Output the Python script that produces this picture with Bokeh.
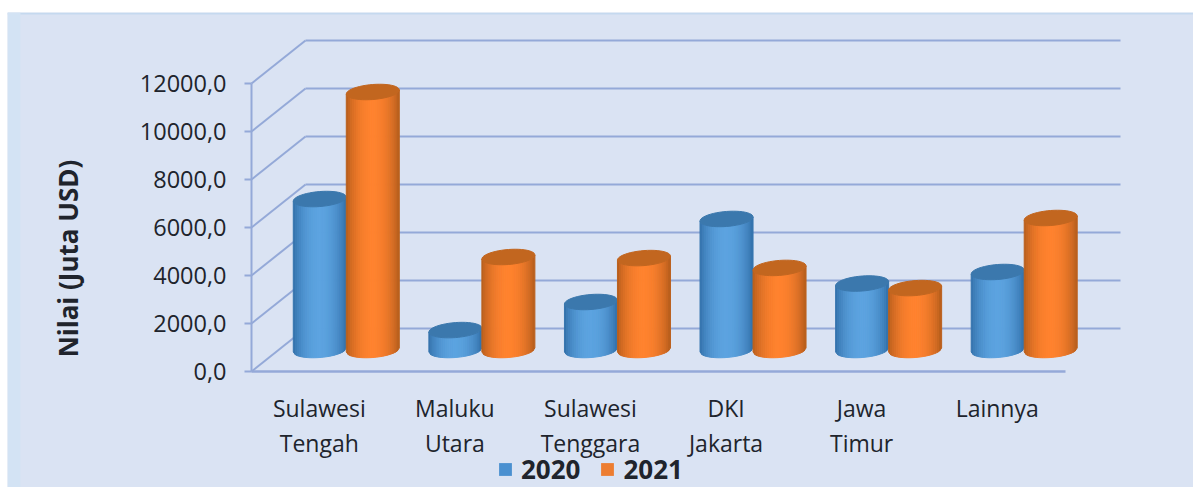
import math
from bokeh.plotting import figure
from bokeh.models import (FixedTicker, Label, Legend, LegendItem,
                          LinearAxis, Range1d, BoxAnnotation)
from bokeh.embed import file_html
from bokeh.resources import INLINE

categories = ["Sulawesi\nTengah", "Maluku\nUtara", "Sulawesi\nTenggara", "DKI\nJakarta", "Jawa\nTimur", "Lainnya"]
series_2020 = [6290, 830, 2000, 5460, 2770, 3250]
series_2021 = [10750, 3875, 3830, 3420, 2580, 5500]
y_ticks = [0, 2000, 4000, 6000, 8000, 10000, 12000]
y_labels = ["0,0", "2000,0", "4000,0", "6000,0", "8000,0", "10000,0", "12000,0"]

PANEL = "#dae3f3"
GRID = "#94a9d8"
TEXT = "#20242c"
FONT = "Open Sans"

W, H = 1193, 487
PANEL_L, PANEL_T = 7, 12      # panel's corner on the page
ORIGIN_X, ORIGIN_Y = 251, 371 # where the value 0 / first category lie
PX_X = 813.5 / 6        # pixels per category
PX_Y = 48 / 2000        # pixels per value unit
DEPTH_X = 54 / PX_X
DEPTH_Y = 43 / PX_Y
R = 26.5 / PX_X
RY = 7.5 / PX_Y
TILT = 2 / PX_Y
WALL_RIGHT = (1120 - ORIGIN_X) / PX_X

p = figure(width=W, height=H, output_backend="svg", toolbar_location=None,
           x_range=Range1d((PANEL_L - ORIGIN_X) / PX_X, (W - ORIGIN_X) / PX_X),
           y_range=Range1d((ORIGIN_Y - H) / PX_Y, (ORIGIN_Y - PANEL_T) / PX_Y),
           x_axis_type=None, y_axis_type=None,
           background_fill_color=PANEL, border_fill_color="white",
           min_border_left=PANEL_L, min_border_top=PANEL_T,
           min_border_right=0, min_border_bottom=0)
p.outline_line_color = None
p.grid.visible = False


def strip(l, r, t, b, color):
    p.add_layout(BoxAnnotation(left=l, right=r, top=t, bottom=b, left_units="canvas", right_units="canvas",
                               top_units="canvas", bottom_units="canvas", fill_color=color, fill_alpha=1,
                               line_color=None, level="underlay"))


# pale border of the panel
strip(PANEL_L, W, PANEL_T, PANEL_T + 2, "#c5d9ef")
strip(PANEL_L, PANEL_L + 13, PANEL_T, H, "#d3e3f4")

# walls
back_x0 = [DEPTH_X] * len(y_ticks)
back_x1 = [WALL_RIGHT] * len(y_ticks)
back_y = [v + DEPTH_Y for v in y_ticks]
p.segment(back_x0, back_y, back_x1, back_y, line_color=GRID, line_width=2)
p.segment([0] * len(y_ticks), y_ticks, back_x0, back_y, line_color=GRID, line_width=2)

# axes
yaxis = LinearAxis(ticker=FixedTicker(ticks=y_ticks), bounds=(0, 12000), fixed_location=0,
                   major_label_overrides=dict(zip(y_ticks, y_labels)))
yaxis.axis_line_color = GRID
yaxis.axis_line_width = 2
yaxis.major_tick_line_color = GRID
yaxis.major_tick_line_width = 2
yaxis.major_tick_out = 7
yaxis.major_tick_in = 0
yaxis.minor_tick_line_color = None
yaxis.major_label_standoff = 18
yaxis.major_label_text_font = FONT
yaxis.major_label_text_font_size = "23.5px"
yaxis.major_label_text_color = TEXT
p.add_layout(yaxis, "left")

cat_pos = [i + 0.5 for i in range(len(categories))]
xaxis = LinearAxis(ticker=FixedTicker(ticks=cat_pos), bounds=(0, len(categories)), fixed_location=0,
                   major_label_overrides=dict(zip(cat_pos, categories)))
xaxis.axis_line_color = GRID
xaxis.axis_line_width = 2.5
xaxis.major_tick_line_color = None
xaxis.minor_tick_line_color = None
xaxis.major_label_standoff = 14
xaxis.major_label_text_font = FONT
xaxis.major_label_text_font_size = "23px"
xaxis.major_label_text_color = TEXT
xaxis.major_label_text_line_height = 1.1
p.add_layout(xaxis, "below")


def mix(a, b, f):
    return "#" + "".join(f"{round(a[i] + (b[i] - a[i]) * f):02x}" for i in range(3))


def add_cylinder(cx, value, edge, mid, cap):
    base = DEPTH_Y / 2
    top = base + value
    n = 26
    xs, ys, cols = [], [], []
    for i in range(n):
        t0, t1 = -1 + 2 * i / n, -1 + 2 * (i + 1) / n
        f = math.sin(math.pi * ((t0 + t1) / 2 + 1) / 2) ** 0.7
        a0, a1 = math.sqrt(max(0, 1 - t0 * t0)), math.sqrt(max(0, 1 - t1 * t1))
        xs.append([cx + R * t0, cx + R * t1, cx + R * t1, cx + R * t0])
        ys.append([base - RY * a0 + TILT * t0, base - RY * a1 + TILT * t1,
                   top - RY * a1 + TILT * t1, top - RY * a0 + TILT * t0])
        cols.append(mix(edge, mid, f))
    p.patches(xs, ys, fill_color=cols, line_color=cols, line_width=1)
    ex = [cx + R * math.cos(2 * math.pi * k / 48) for k in range(48)]
    ey = [top + RY * math.sin(2 * math.pi * k / 48) + TILT * math.cos(2 * math.pi * k / 48) for k in range(48)]
    p.patch(ex, ey, fill_color=cap, line_color=cap, line_width=1)


BLUE = ((0x2f, 0x6c, 0xa6), (0x5c, 0xa3, 0xe0), "#3b78ad")
ORANGE = ((0xb0, 0x5a, 0x1a), (0xff, 0x82, 0x2e), "#c2661f")
offset = 26.5 / PX_X
for i in range(len(categories)):
    cx = cat_pos[i] + DEPTH_X / 2
    add_cylinder(cx - offset, series_2020[i], *BLUE)
    add_cylinder(cx + offset, series_2021[i], *ORANGE)

# axis title
p.add_layout(Label(x=67.5 - PANEL_L, y=H - 258, x_units="screen", y_units="screen",
                   text="Nilai (Juta USD)", angle=math.pi / 2, text_align="center",
                   text_baseline="middle", text_font=FONT, text_font_style="bold",
                   text_font_size="26px", text_color=TEXT))

# legend: zero-height bars, only their legend swatches show
r0 = p.vbar(x=[cat_pos[0]], top=[0], width=0, fill_color="#4a90d0", line_color=None)
r1 = p.vbar(x=[cat_pos[0]], top=[0], width=0, fill_color="#ed7d31", line_color=None)
legend = Legend(items=[LegendItem(label="2020", renderers=[r0]), LegendItem(label="2021", renderers=[r1])],
                orientation="horizontal", location=(497 - PANEL_L, 0), margin=0, padding=0,
                spacing=19, label_standoff=8, glyph_width=16, glyph_height=16,
                background_fill_alpha=0, border_line_color=None,
                label_text_font=FONT, label_text_font_style="bold", label_text_font_size="26px",
                label_text_line_height=1.0, label_text_color=TEXT)
p.add_layout(legend, "center")

open("out.html", "w").write(file_html(p, INLINE))
